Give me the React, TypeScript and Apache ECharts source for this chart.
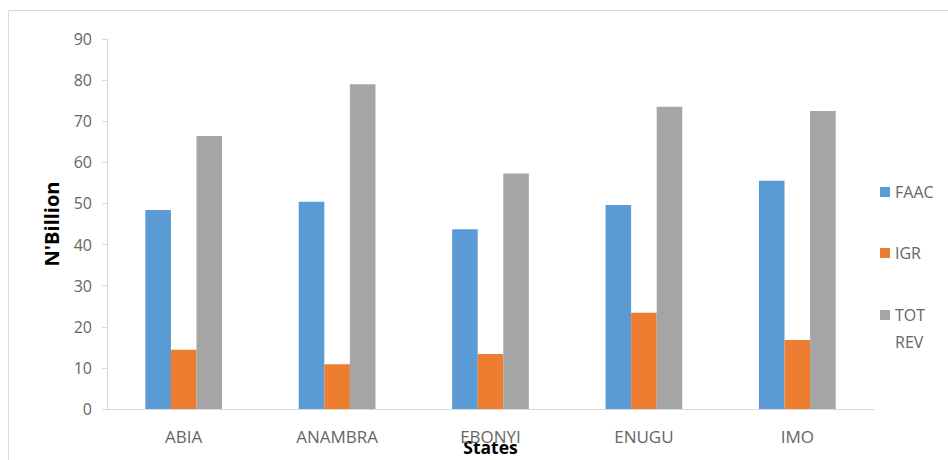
import React, { useEffect, useRef } from "react";
import * as echarts from "echarts";

const categories = ["ABIA", "ANAMBRA", "EBONYI", "ENUGU", "IMO"];
const faac = [48.4, 50.4, 43.7, 49.6, 55.5];
const igr = [14.4, 10.9, 13.4, 23.4, 16.8];
const totRev = [66.4, 79.0, 57.3, 73.5, 72.5];
const seriesNames = ["FAAC", "IGR", "TOT REV"];
const colors = ["#5B9BD5", "#ED7D31", "#A5A5A5"];

const FONT = "'Open Sans', 'Noto Sans', sans-serif";

export default function App() {
  const ref = useRef<HTMLDivElement>(null);
  useEffect(() => {
    if (!ref.current) return;
    const chart = echarts.init(ref.current, undefined, { renderer: "svg" });
    const values = [faac, igr, totRev];
    const legendTops = [184, 245, 274.5];
    chart.setOption({
      animation: false,
      backgroundColor: "#ffffff",
      textStyle: { fontFamily: FONT },
      graphic: [
        {
          type: "rect",
          shape: { x: 8.5, y: 10.5, width: 1000, height: 1000 },
          style: { fill: "none", stroke: "#d9d9d9", lineWidth: 1 },
          silent: true,
        },
      ],
      grid: {
        left: 107,
        right: 74,
        top: 39,
        bottom: 51,
        containLabel: false,
        outerBoundsMode: "none",
      },
      legend: seriesNames.map((name, i) => ({
        data: [name],
        orient: "vertical",
        left: 880,
        top: legendTops[i],
        padding: 0,
        itemWidth: 10,
        itemHeight: 10,
        itemGap: 6,
        icon: "rect",
        formatter: (n: string) => (n === "TOT REV" ? "\nTOT\nREV" : n),
        textStyle: {
          color: "#666666",
          fontSize: 16,
          fontFamily: FONT,
          lineHeight: name === "TOT REV" ? 27 : undefined,
        },
      })),
      xAxis: {
        type: "category",
        data: categories,
        name: "States",
        nameLocation: "middle",
        nameGap: 29,
        nameMoveOverlap: false,
        nameTextStyle: { color: "#000", fontWeight: "bold", fontSize: 17.5, fontFamily: FONT },
        axisLine: { show: true, lineStyle: { color: "#d9d9d9", width: 1 } },
        axisTick: { show: false },
        axisLabel: { color: "#666666", fontSize: 17, margin: 19, fontFamily: FONT },
      },
      yAxis: {
        type: "value",
        min: 0,
        max: 90,
        interval: 10,
        name: "N'Billion",
        nameLocation: "middle",
        nameGap: 46,
        nameMoveOverlap: false,
        nameTextStyle: { color: "#000", fontWeight: "bold", fontSize: 20, fontFamily: FONT },
        axisLine: { show: true, lineStyle: { color: "#d9d9d9", width: 1 } },
        axisTick: { show: true, inside: false, length: 5, lineStyle: { color: "#d9d9d9" } },
        splitLine: { show: false },
        axisLabel: { color: "#666666", fontSize: 16, margin: 15, fontFamily: FONT },
      },
      series: seriesNames.map((name, i) => ({
        name,
        type: "bar",
        data: values[i],
        barGap: "0%",
        barCategoryGap: "50%",
        itemStyle: { color: colors[i] },
      })),
    });
    return () => chart.dispose();
  }, []);
  return (
    <div
      ref={ref}
      style={{ position: "fixed", left: 0, top: 0, width: 948, height: 460, background: "#fff" }}
    />
  );
}
